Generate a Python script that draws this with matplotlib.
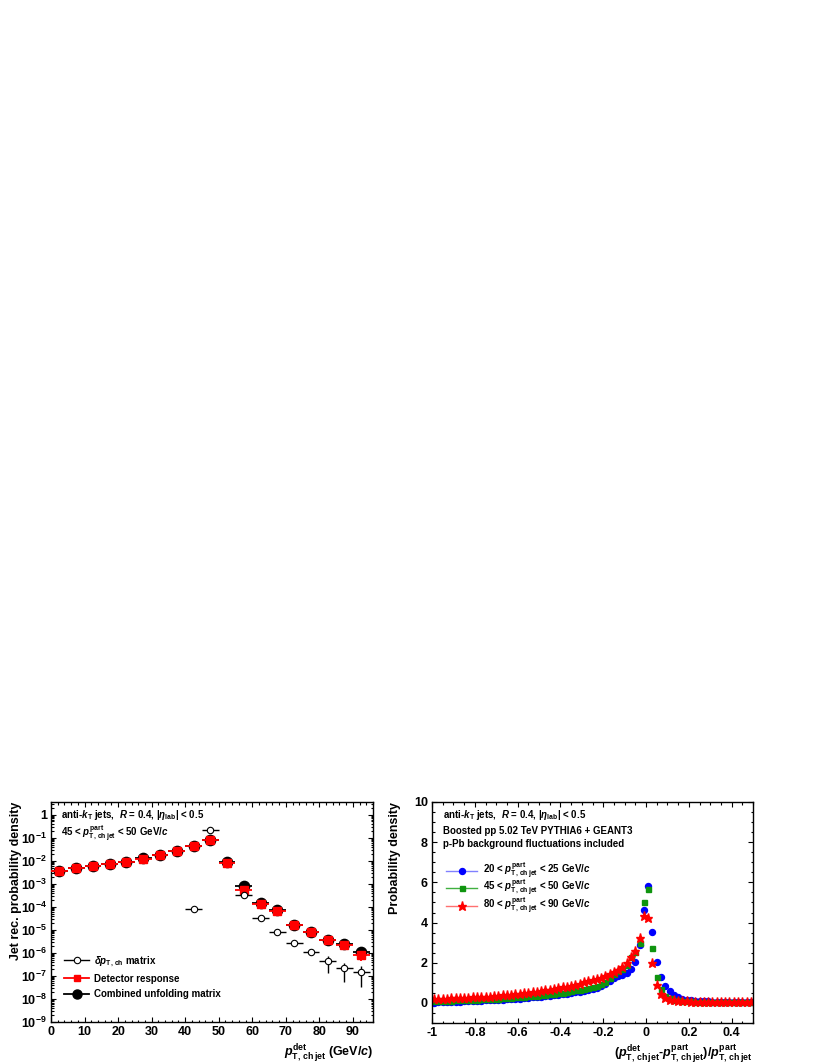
import numpy as np
import matplotlib.pyplot as plt
from matplotlib.lines import Line2D
from matplotlib.ticker import MultipleLocator, LogLocator, FuncFormatter, NullFormatter

plt.rcParams['font.family'] = ['Liberation Sans', 'DejaVu Sans']
plt.rcParams['font.weight'] = 'bold'
plt.rcParams['axes.labelweight'] = 'bold'
plt.rcParams['mathtext.fontset'] = 'custom'
plt.rcParams['mathtext.rm'] = 'Liberation Sans:bold'
plt.rcParams['mathtext.it'] = 'Liberation Sans:italic:bold'
plt.rcParams['mathtext.bf'] = 'Liberation Sans:bold'
plt.rcParams['mathtext.sf'] = 'Liberation Sans:bold'
plt.rcParams['axes.unicode_minus'] = False

# ---- left panel: response for 45 < pT,part < 50 GeV/c ----
pt_det = [2.5, 7.5, 12.5, 17.5, 22.5, 27.5, 32.5, 37.5, 42.5, 47.5,
          52.5, 57.5, 62.5, 67.5, 72.5, 77.5, 82.5, 87.5, 92.5]
combined = [3.7e-3, 4.7e-3, 6.1e-3, 7.2e-3, 8.8e-3, 1.25e-2, 1.75e-2, 2.7e-2, 4.4e-2, 7.9e-2,
            9.1e-3, 8.2e-4, 1.5e-4, 6.9e-5, 1.6e-5, 8.2e-6, 3.7e-6, 2.35e-6, 1.07e-6]
combined_err = [0, 0, 0, 0, 0, 0, 0, 0, 0, 0,
                0, 0, 0, 0, 0, 0, 0, 1e-7, 1.5e-7]
detector = [3.6e-3, 4.6e-3, 6.0e-3, 7.1e-3, 8.7e-3, 1.22e-2, 1.72e-2, 2.65e-2, 4.3e-2, 7.7e-2,
            7.7e-3, 5.5e-4, 1.3e-4, 6.5e-5, 1.55e-5, 8.0e-6, 3.6e-6, 2.3e-6, 8.2e-7]
detector_err = [0, 0, 0, 0, 0, 0, 0, 0, 0, 0,
                0, 0, 0, 0, 0, 0, 0, 0, 3.9e-7]
nan = np.nan
dpt_matrix = [nan, nan, nan, nan, nan, nan, nan, nan, 8.2e-5, 0.21,
              nan, 3.1e-4, 3.4e-5, 7.9e-6, 2.6e-6, 1.14e-6, 4.3e-7, 2.1e-7, 1.5e-7]
dpt_err = [0, 0, 0, 0, 0, 0, 0, 0, 0, 0,
           0, 0, 0, 0, 0, 1.5e-7, 3.0e-7, 1.55e-7, 1.16e-7]

# ---- right panel: relative difference distributions ----
rel_diff = np.linspace(-0.99, 0.49, 75)
dens_20_25 = [0.02, 0.03, 0.04, 0.05, 0.06, 0.06, 0.07, 0.08, 0.09, 0.10,
              0.10, 0.11, 0.12, 0.13, 0.14, 0.15, 0.16, 0.17, 0.18, 0.19,
              0.21, 0.23, 0.25, 0.27, 0.29, 0.31, 0.33, 0.35, 0.37, 0.40,
              0.43, 0.46, 0.49, 0.52, 0.56, 0.60, 0.65, 0.70, 0.76, 0.84,
              0.93, 1.08, 1.24, 1.34, 1.41, 1.51, 1.67, 2.03, 2.88, 4.62,
              5.83, 3.51, 2.02, 1.28, 0.86, 0.60, 0.40, 0.28, 0.21, 0.16,
              0.13, 0.11, 0.10, 0.09, 0.08, 0.07, 0.06, 0.06, 0.05, 0.05,
              0.04, 0.04, 0.04, 0.03, 0.03]
dens_45_50 = [0.08, 0.09, 0.10, 0.10, 0.11, 0.12, 0.13, 0.13, 0.14, 0.15,
              0.16, 0.17, 0.18, 0.19, 0.20, 0.21, 0.22, 0.24, 0.25, 0.27,
              0.28, 0.30, 0.32, 0.34, 0.36, 0.38, 0.40, 0.43, 0.45, 0.48,
              0.51, 0.54, 0.58, 0.62, 0.66, 0.70, 0.75, 0.80, 0.86, 0.93,
              1.05, 1.25, 1.45, 1.59, 1.70, 1.87, 2.30, 2.55, 2.97, 5.00,
              5.65, 2.72, 1.29, 0.68, 0.36, 0.23, 0.16, 0.12, 0.10, 0.09,
              0.08, 0.07, 0.06, 0.06, 0.05, 0.05, 0.05, 0.04, 0.04, 0.04,
              0.03, 0.03, 0.03, 0.03, 0.03]
dens_80_90 = [0.18, 0.19, 0.20, 0.21, 0.22, 0.23, 0.24, 0.25, 0.26, 0.27,
              0.28, 0.29, 0.30, 0.31, 0.33, 0.35, 0.37, 0.39, 0.41, 0.43,
              0.45, 0.47, 0.50, 0.53, 0.56, 0.59, 0.62, 0.65, 0.69, 0.73,
              0.77, 0.81, 0.86, 0.91, 0.96, 1.02, 1.08, 1.14, 1.20, 1.26,
              1.33, 1.42, 1.52, 1.64, 1.80, 1.97, 2.27, 2.57, 3.22, 4.34,
              4.24, 1.97, 0.89, 0.46, 0.25, 0.16, 0.12, 0.10, 0.09, 0.08,
              0.07, 0.06, 0.06, 0.05, 0.05, 0.05, 0.04, 0.04, 0.04, 0.04,
              0.03, 0.03, 0.03, 0.03, 0.03]

W, H = 822, 1064
fig = plt.figure(figsize=(W / 100, H / 100), dpi=100)

def frame(x0, y0, x1, y1):
    return [x0 / W, 1 - y1 / H, (x1 - x0) / W, (y1 - y0) / H]

ax1 = fig.add_axes(frame(51, 802, 373, 1022))
ax2 = fig.add_axes(frame(432, 802, 753, 1023))

for ax in (ax1, ax2):
    for s in ax.spines.values():
        s.set_linewidth(1.0)
    ax.tick_params(which='both', direction='in', top=True, right=True,
                   labelsize=9, pad=3, width=0.8)
    ax.tick_params(which='major', length=3.4)
    ax.tick_params(which='minor', length=1.8)

# left panel
ax1.errorbar(pt_det, combined, xerr=2.5, yerr=combined_err, fmt='o', color='black',
             ms=7.4, lw=1.3, capsize=0, zorder=3)
ax1.errorbar(pt_det, detector, xerr=2.5, yerr=detector_err, fmt='s', color='red',
             ms=5.2, lw=1.3, capsize=0, zorder=4)
ax1.errorbar(pt_det, dpt_matrix, xerr=2.5, yerr=dpt_err, fmt='o', color='black',
             mfc='white', mec='black', mew=0.8, ms=4.6, lw=1.0, capsize=0, zorder=5)

ax1.set_yscale('log')
ax1.set_xlim(0, 96)
ax1.set_ylim(1e-9, 3.5)
ax1.xaxis.set_major_locator(MultipleLocator(10))
ax1.xaxis.set_minor_locator(MultipleLocator(2))
ax1.yaxis.set_major_locator(LogLocator(base=10, numticks=15))
ax1.yaxis.set_minor_locator(LogLocator(base=10, subs=np.arange(2, 10), numticks=15))
ax1.yaxis.set_minor_formatter(NullFormatter())

def log_label(v, pos):
    e = int(round(np.log10(v)))
    return '1' if e == 0 else r'$10^{%d}$' % e

ax1.yaxis.set_major_formatter(FuncFormatter(log_label))
ax1.set_ylabel('Jet rec. probability density', fontsize=9, loc='top')
ax1.yaxis.set_label_coords(-0.09, 1.0)
ax1.set_xlabel(r'$p^{\rm det}_{\rm T,\,ch\,jet}$ (GeV/$c$)', fontsize=9, loc='right')
ax1.xaxis.set_label_coords(1.0, -0.09)

ax1.text(0.031, 0.941, r'anti-$k_{\rm T}$ jets,  $R$ = 0.4, |$\eta_{\rm lab}$| < 0.5',
         transform=ax1.transAxes, fontsize=7, va='center')
ax1.text(0.031, 0.855, r'45 < $p^{\rm part}_{\rm T,\,ch\,jet}$ < 50 GeV/$c$',
         transform=ax1.transAxes, fontsize=7, va='center')

h1 = [Line2D([], [], color='black', marker='o', mfc='white', mec='black', mew=0.8, ms=4.6, lw=1.0),
      Line2D([], [], color='red', marker='s', ms=4.2, lw=1.3),
      Line2D([], [], color='black', marker='o', ms=6.5, lw=1.3)]
l1 = [r'$\delta p_{\rm T,\,ch}$ matrix', 'Detector response', 'Combined unfolding matrix']
ax1.legend(h1, l1, loc='upper left', bbox_to_anchor=(0.04, 0.31), frameon=False,
           fontsize=7, borderpad=0, borderaxespad=0, handlelength=2.6,
           handletextpad=0.5, labelspacing=0.55)

# right panel
series = [
    (dens_20_25, 'o', '#0000ff', '#8080ff', 4.3, r'20 < $p^{\rm part}_{\rm T,\,ch\,jet}$ < 25 GeV/$c$'),
    (dens_45_50, 's', '#0f940f', '#40b040', 3.6, r'45 < $p^{\rm part}_{\rm T,\,ch\,jet}$ < 50 GeV/$c$'),
    (dens_80_90, '*', '#ff0000', '#ff7070', 6.5, r'80 < $p^{\rm part}_{\rm T,\,ch\,jet}$ < 90 GeV/$c$'),
]
h2, l2 = [], []
for vals, mk, col, lcol, ms, lab in series:
    ax2.errorbar(rel_diff, vals, xerr=0.01, fmt=mk, color=lcol, mfc=col, mec=col,
                 ms=ms, lw=1.0, capsize=0)
    h2.append(Line2D([], [], color=lcol, marker=mk, mfc=col, mec=col, ms=ms, lw=1.0))
    l2.append(lab)

ax2.set_xlim(-1, 0.5)
ax2.set_ylim(-1, 10)
ax2.xaxis.set_major_locator(MultipleLocator(0.2))
ax2.xaxis.set_minor_locator(MultipleLocator(0.05))
ax2.yaxis.set_major_locator(MultipleLocator(2))
ax2.yaxis.set_minor_locator(MultipleLocator(0.5))
ax2.xaxis.set_major_formatter(FuncFormatter(lambda v, p: '%g' % round(v, 2)))
ax2.yaxis.set_major_formatter(FuncFormatter(lambda v, p: '%g' % v))
ax2.set_ylabel('Probability density', fontsize=9, loc='top')
ax2.yaxis.set_label_coords(-0.097, 1.0)
ax2.set_xlabel(r'$(p^{\rm det}_{\rm T,\,ch\,jet}$-$p^{\rm part}_{\rm T,\,ch\,jet})/p^{\rm part}_{\rm T,\,ch\,jet}$',
               fontsize=9, loc='right')
ax2.xaxis.set_label_coords(1.0, -0.09)

ax2.text(0.034, 0.941, r'anti-$k_{\rm T}$ jets,  $R$ = 0.4, |$\eta_{\rm lab}$| < 0.5',
         transform=ax2.transAxes, fontsize=7, va='center')
ax2.text(0.034, 0.869, 'Boosted pp 5.02 TeV PYTHIA6 + GEANT3',
         transform=ax2.transAxes, fontsize=7, va='center')
ax2.text(0.034, 0.810, 'p-Pb background fluctuations included',
         transform=ax2.transAxes, fontsize=7, va='center')
ax2.legend(h2, l2, loc='upper left', bbox_to_anchor=(0.044, 0.735), frameon=False,
           fontsize=7, borderpad=0, borderaxespad=0, handlelength=3.2,
           handletextpad=0.6, labelspacing=-0.3)

fig.savefig('out.png', dpi=100)
